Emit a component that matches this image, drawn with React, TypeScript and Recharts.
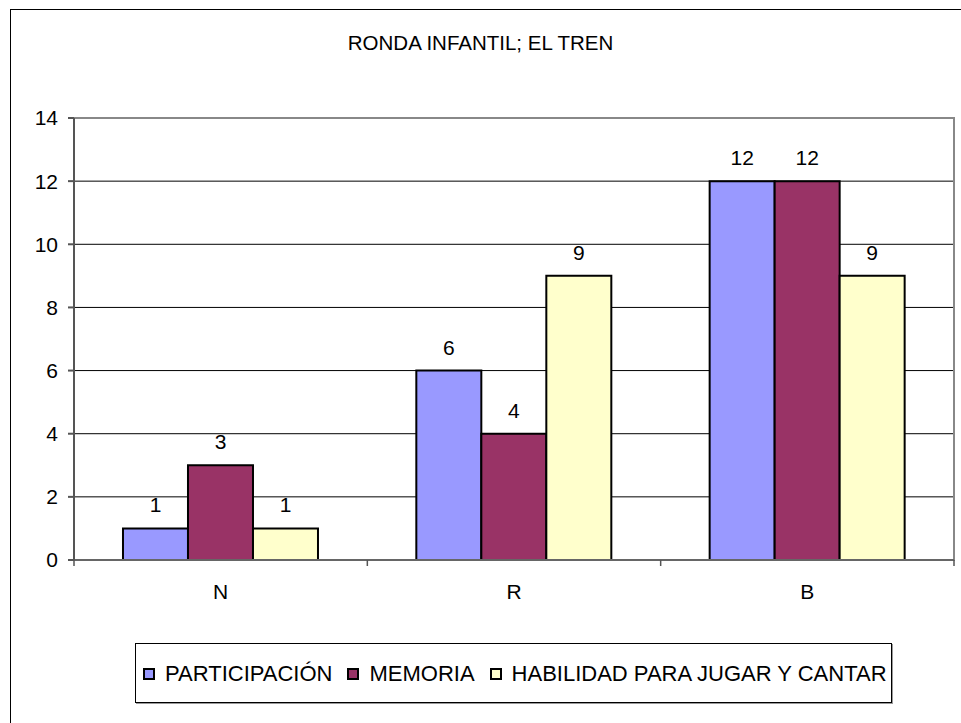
import React from "react";
import {
  Bar,
  BarChart,
  CartesianGrid,
  LabelList,
  ReferenceArea,
  XAxis,
  YAxis,
} from "recharts";

const CATEGORIES = ["N", "R", "B"];
const PARTICIPACION = [1, 6, 12];
const MEMORIA = [3, 4, 12];
const HABILIDAD = [1, 9, 9];
const Y_TICKS = [0, 2, 4, 6, 8, 10, 12, 14];

const SERIES = [
  { key: "participacion", name: "PARTICIPACIÓN", color: "#9999FF", values: PARTICIPACION },
  { key: "memoria", name: "MEMORIA", color: "#993366", values: MEMORIA },
  { key: "habilidad", name: "HABILIDAD PARA JUGAR Y CANTAR", color: "#FFFFCC", values: HABILIDAD },
];

const FONT = '"Liberation Sans", Arial, sans-serif';

const data = CATEGORIES.map((cat, i) => {
  const row: Record<string, string | number> = { cat };
  SERIES.forEach((s) => (row[s.key] = s.values[i]));
  return row;
});

// category label centred, tick marks at the band edges (like Excel)
function EdgeTick(props: any) {
  const { x, y, payload, index, visibleTicksCount, width } = props;
  const half = payload.offset || width / visibleTicksCount / 2;
  return (
    <g>
      <line x1={x - half} x2={x - half} y1={y} y2={y + 6} stroke="#555" strokeWidth={1.5} />
      {index === visibleTicksCount - 1 && (
        <line x1={x + half} x2={x + half} y1={y} y2={y + 6} stroke="#555" strokeWidth={1.5} />
      )}
      <text x={x} y={y + 39} textAnchor="middle" fontSize={21} fontFamily={FONT} fill="#000">
        {payload.value}
      </text>
    </g>
  );
}

export default function App() {
  return (
    <div style={{ position: "absolute", left: 0, top: 0, width: 961, height: 723, overflow: "hidden", background: "#fff", fontFamily: FONT }}>
      <div
        style={{
          position: "absolute",
          left: 10,
          top: 9,
          width: 1000,
          height: 800,
          borderLeft: "1.5px solid #000",
          borderTop: "1.5px solid #000",
        }}
      />
      <div
        style={{
          position: "absolute",
          left: 0,
          width: 961,
          top: 31,
          textAlign: "center",
          fontSize: 20.5,
          lineHeight: "23px",
          color: "#000",
        }}
      >
        RONDA INFANTIL; EL TREN
      </div>

      <div style={{ position: "absolute", left: 0, top: 0 }}>
        <BarChart
          width={961}
          height={723}
          data={data}
          margin={{ top: 118, right: 7, bottom: 123, left: 0 }}
          barCategoryGap="16.7%"
          barGap={0}
        >
          <CartesianGrid horizontal vertical={false} stroke="#000" strokeWidth={1} />
          <XAxis
            dataKey="cat"
            height={40}
            tickSize={0}
            tickMargin={0}
            tickLine={false}
            stroke="#666"
            strokeWidth={2}
            tick={<EdgeTick />}
            interval={0}
          />
          <YAxis
            width={74}
            domain={[0, 14]}
            ticks={Y_TICKS}
            interval={0}
            tickSize={6}
            tickMargin={10}
            stroke="#555"
            strokeWidth={2}
            tick={{ fill: "#000", fontSize: 21, fontFamily: FONT }}
          />
          <ReferenceArea y1={0} y2={14} fill="none" stroke="#888" strokeWidth={2} ifOverflow="visible" />
          {SERIES.map((s) => (
            <Bar
              key={s.key}
              dataKey={s.key}
              name={s.name}
              fill={s.color}
              stroke="#000"
              strokeWidth={2}
              isAnimationActive={false}
            >
              <LabelList
                dataKey={s.key}
                position="top"
                offset={16}
                fill="#000"
                fontSize={21}
                fontFamily={FONT}
              />
            </Bar>
          ))}
        </BarChart>
      </div>

      <div
        style={{
          position: "absolute",
          left: 135,
          top: 643,
          width: 757,
          height: 60,
          boxSizing: "border-box",
          border: "1px solid #000",
          boxShadow: "1px 1px 0 #999",
          display: "flex",
          alignItems: "center",
          paddingLeft: 7,
          background: "#fff",
        }}
      >
        {SERIES.map((s) => (
          <div key={s.key} style={{ display: "flex", alignItems: "center", marginRight: 15 }}>
            <span
              style={{
                display: "inline-block",
                width: 12,
                height: 12,
                boxSizing: "border-box",
                border: "2px solid #000",
                background: s.color,
                marginRight: 10,
                marginTop: 1,
              }}
            />
            <span style={{ fontSize: 22, lineHeight: "23px", color: "#000", whiteSpace: "nowrap" }}>{s.name}</span>
          </div>
        ))}
      </div>
    </div>
  );
}
